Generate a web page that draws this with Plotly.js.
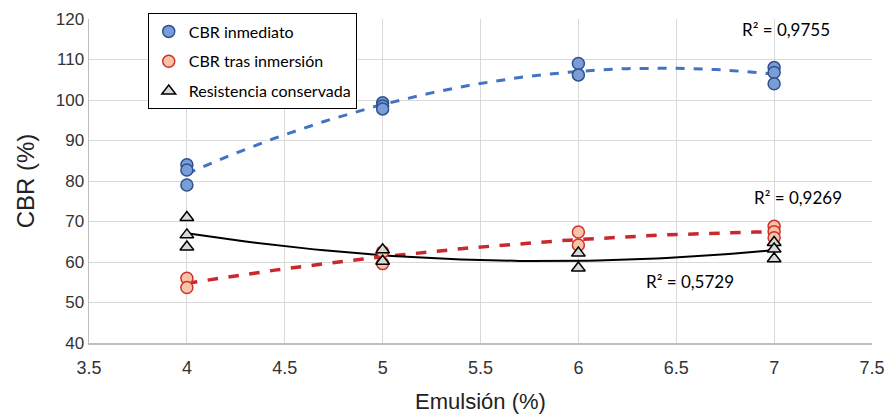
<!DOCTYPE html>
<html>
<head>
<meta charset="utf-8">
<script src="https://cdn.plot.ly/plotly-3.0.1.min.js"></script>
<style>html,body{margin:0;padding:0;background:#fff;}#chart{width:886px;height:415px;}</style>
</head>
<body>
<div id="chart"></div>
<script>
// Data
const xInmediato = [4, 4, 4, 5, 5, 5, 6, 6, 7, 7, 7];
const yInmediato = [84, 82.7, 79, 99.3, 98.5, 97.8, 109, 106.2, 108, 106.8, 104];
const xInmersion = [4, 4, 5, 5, 6, 6, 7, 7, 7];
const yInmersion = [56, 53.7, 62.5, 59.6, 67.4, 64.2, 68.8, 67.5, 66];
const xResistencia = [4, 4, 4, 5, 5, 6, 6, 7, 7, 7];
const yResistencia = [71, 66.7, 63.7, 63, 60.2, 62.2, 58.5, 64.8, 63.2, 60.8];
const seriesNames = ["CBR inmediato", "CBR tras inmersión", "Resistencia conservada"];
const r2Labels = ["R² = 0,9755", "R² = 0,9269", "R² = 0,5729"];
const xTicks = [3.5, 4, 4.5, 5, 5.5, 6, 6.5, 7, 7.5];
const yTicks = [40, 50, 60, 70, 80, 90, 100, 110, 120];

function quadFit(xs, ys) {
  let S = [[0,0,0],[0,0,0],[0,0,0]], T = [0,0,0];
  for (let i = 0; i < xs.length; i++) {
    const p = [1, xs[i], xs[i]*xs[i]];
    for (let r = 0; r < 3; r++) { T[r] += p[r]*ys[i]; for (let c = 0; c < 3; c++) S[r][c] += p[r]*p[c]; }
  }
  const M = S.map((row, i) => row.concat([T[i]]));
  for (let i = 0; i < 3; i++) {
    let piv = i; for (let k = i+1; k < 3; k++) if (Math.abs(M[k][i]) > Math.abs(M[piv][i])) piv = k;
    [M[i], M[piv]] = [M[piv], M[i]];
    for (let k = i+1; k < 3; k++) { const f = M[k][i]/M[i][i]; for (let j = i; j < 4; j++) M[k][j] -= f*M[i][j]; }
  }
  const coef = [0,0,0];
  for (let i = 2; i >= 0; i--) { let s = M[i][3]; for (let j = i+1; j < 3; j++) s -= M[i][j]*coef[j]; coef[i] = s/M[i][i]; }
  return coef;
}
function trend(xs, ys) {
  const c = quadFit(xs, ys);
  const lo = Math.min(...xs), hi = Math.max(...xs);
  const tx = [], ty = [];
  for (let i = 0; i <= 60; i++) { const x = lo + (hi-lo)*i/60; tx.push(x); ty.push(c[0] + c[1]*x + c[2]*x*x); }
  return {tx, ty};
}

const tB = trend(xInmediato, yInmediato);
const tR = trend(xInmersion, yInmersion);
const tK = trend(xResistencia, yResistencia);

const traces = [
  {x: tB.tx, y: tB.ty, mode: 'lines', line: {color: '#4472C4', width: 3, dash: 'dash'}, showlegend: false, hoverinfo: 'skip', legendgroup: 'a'},
  {x: tR.tx, y: tR.ty, mode: 'lines', line: {color: '#C9282D', width: 3.5, dash: 'dash'}, showlegend: false, hoverinfo: 'skip', legendgroup: 'b'},
  {x: tK.tx, y: tK.ty, mode: 'lines', line: {color: '#000000', width: 2}, showlegend: false, hoverinfo: 'skip', legendgroup: 'c'},
  {x: xInmediato, y: yInmediato, name: seriesNames[0], legendgroup: 'a', mode: 'markers', type: 'scatter',
   marker: {symbol: 'circle', size: 12, color: '#7A9DD6', line: {color: '#2F528F', width: 1.5}}},
  {x: xInmersion, y: yInmersion, name: seriesNames[1], legendgroup: 'b', mode: 'markers', type: 'scatter',
   marker: {symbol: 'circle', size: 12, color: '#F8C4A8', line: {color: '#D0312D', width: 1.5}}},
  {x: xResistencia, y: yResistencia, name: seriesNames[2], legendgroup: 'c', mode: 'markers', type: 'scatter',
   marker: {symbol: 'triangle-up', size: 12, color: '#D9D9D9', line: {color: '#000000', width: 1.5}}}
];

const annFont = {family: 'Lato, Open Sans, sans-serif', size: 17, color: '#000'};
const layout = {
  width: 886, height: 415,
  margin: {l: 89, r: 14, t: 19, b: 72},
  paper_bgcolor: '#fff', plot_bgcolor: '#fff',
  showlegend: true,
  legend: {x: 0.075, y: 1.017, xanchor: 'left', yanchor: 'top', bgcolor: '#fff', bordercolor: '#000', borderwidth: 1,
           font: {family: 'Lato, Open Sans, sans-serif', size: 16, color: '#000'}, traceorder: 'grouped',
           tracegroupgap: 6, itemwidth: 30},
  xaxis: {range: [3.5, 7.5], tickvals: xTicks, ticktext: xTicks.map(String), showgrid: true, gridcolor: '#D9D9D9', gridwidth: 1,
          zeroline: false, showline: true, linecolor: '#BFBFBF', linewidth: 1.5, ticks: '', ticklabelstandoff: 8,
          tickfont: {family: 'Liberation Sans Narrow, Arial Narrow, Liberation Sans, sans-serif', size: 18, color: '#333'},
          title: {text: 'Emulsión (%)', font: {family: 'Liberation Sans Narrow, Liberation Sans, sans-serif', size: 22, color: '#222'}, standoff: 16}},
  yaxis: {range: [40, 120], tickvals: yTicks, showgrid: true, gridcolor: '#D9D9D9', gridwidth: 1,
          zeroline: false, showline: true, linecolor: '#BFBFBF', linewidth: 1.5, ticks: '',
          tickfont: {family: 'Liberation Sans, Arial, sans-serif', size: 17, color: '#333'},
          title: {text: 'CBR (%)', font: {family: 'Liberation Sans, Arial, sans-serif', size: 24, color: '#222'}, standoff: 14}},
  annotations: [
    {x: 7.06, y: 117.3, xref: 'x', yref: 'y', text: r2Labels[0], showarrow: false, font: annFont, xanchor: 'center'},
    {x: 7.12, y: 75.9, xref: 'x', yref: 'y', text: r2Labels[1], showarrow: false, font: annFont, xanchor: 'center'},
    {x: 6.57, y: 55.1, xref: 'x', yref: 'y', text: r2Labels[2], showarrow: false, font: annFont, xanchor: 'center'}
  ]
};

Plotly.newPlot('chart', traces, layout, {displayModeBar: false, staticPlot: true});
</script>
</body>
</html>
